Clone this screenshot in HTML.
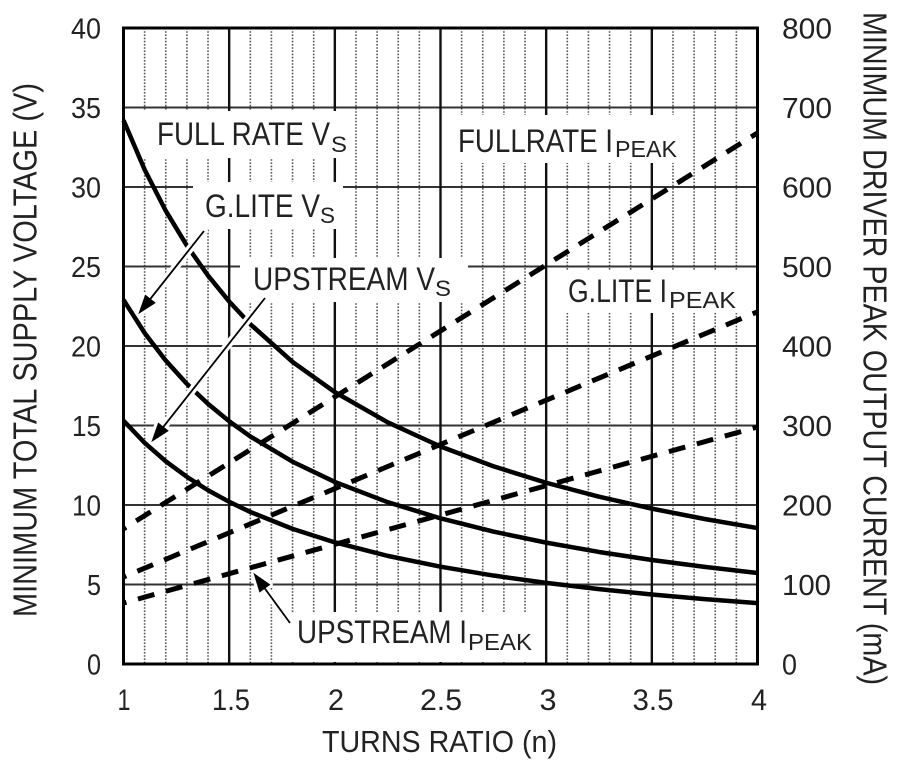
<!DOCTYPE html>
<html><head><meta charset="utf-8">
<style>
html,body{margin:0;padding:0;background:#fff;}
svg{display:block;}
text{font-family:"Liberation Sans",Arial,sans-serif;fill:#222;}
</style></head>
<body>
<svg width="900" height="768" viewBox="0 0 900 768" xmlns="http://www.w3.org/2000/svg">
<rect x="0" y="0" width="900" height="768" fill="#fff"/>

<!-- minor dotted verticals -->
<g stroke="#555" stroke-width="1.6" stroke-dasharray="1.6 1.6" fill="none">
<path d="M144.63 28V664M165.77 28V664M186.9 28V664M208.03 28V664
M250.3 28V664M271.43 28V664M292.57 28V664M313.7 28V664
M355.97 28V664M377.1 28V664M398.23 28V664M419.37 28V664
M461.63 28V664M482.77 28V664M503.9 28V664M525.03 28V664
M567.3 28V664M588.43 28V664M609.57 28V664M630.7 28V664
M672.97 28V664M694.1 28V664M715.23 28V664M736.37 28V664"/>
</g>
<!-- major horizontals -->
<g stroke="#333" stroke-width="2" fill="none">
<path d="M123.5 107.5H757.5M123.5 187H757.5M123.5 266.5H757.5M123.5 346H757.5M123.5 425.5H757.5M123.5 505H757.5M123.5 584.5H757.5"/>
</g>
<!-- major verticals -->
<g stroke="#111" stroke-width="2.4" fill="none">
<path d="M229.17 28V664M334.83 28V664M440.5 28V664M546.17 28V664M651.83 28V664"/>
</g>

<!-- label backgrounds -->
<g fill="#fff">
<rect x="140" y="111" width="213" height="47"/>
<rect x="193" y="182" width="150" height="47"/>
<rect x="240" y="258" width="228" height="44"/>
<rect x="450" y="115" width="240" height="48"/>
<rect x="555" y="270" width="192" height="43"/>
<rect x="290" y="612" width="250" height="50"/>
</g>

<!-- dashed IPEAK lines -->
<g stroke="#000" stroke-width="5" fill="none" stroke-dasharray="17 12" stroke-dashoffset="14">
<line x1="123.5" y1="528.85" x2="757.5" y2="132.94"/>
<line x1="123.5" y1="577.03" x2="757.5" y2="311.8"/>
<line x1="123.5" y1="603.02" x2="757.5" y2="427.0"/>
</g>

<!-- solid VS curves -->
<g stroke="#000" stroke-width="4.5" fill="none" stroke-linejoin="round" stroke-linecap="butt">
<polyline points="123.5,120.22 144.63,169.65 165.77,210.85 186.9,245.71 208.03,275.59 229.17,301.48 250.3,324.14 292.57,361.9 334.83,392.11 387.67,422.32 440.5,446.49 493.33,466.26 546.17,482.74 599,496.68 651.83,508.63 704.67,518.99 757.5,528.05"/>
<polyline points="123.5,299.89 144.63,332.99 165.77,360.57 186.9,383.92 208.03,403.92 229.17,421.26 250.3,436.43 292.57,461.72 334.83,481.94 387.67,502.17 440.5,518.36 493.33,531.6 546.17,542.63 599,551.97 651.83,559.97 704.67,566.9 757.5,572.97"/>
<polyline points="123.5,420.73 144.63,442.85 165.77,461.27 186.9,476.87 208.03,490.24 229.17,501.82 250.3,511.96 292.57,528.85 334.83,542.36 387.67,555.88 440.5,566.69 493.33,575.54 546.17,582.91 599,589.15 651.83,594.49 704.67,599.13 757.5,603.18"/>
</g>

<!-- arrows: halos -->
<g stroke="#fff" fill="#fff" stroke-width="8" stroke-linejoin="round" stroke-linecap="round">
<line x1="204" y1="231" x2="149.9" y2="299.4"/>
<polygon points="140,312 154.24,302.85 145.6,296.03"/>
<line x1="265" y1="298" x2="162.9" y2="427.4"/>
<polygon points="153,440 167.23,430.85 158.59,424.03"/>
<line x1="290" y1="623" x2="264.4" y2="587.9"/>
<polygon points="255,575 268.87,584.69 259.99,591.17"/>
</g>
<g stroke="#000" fill="#000" stroke-width="1.8" stroke-linejoin="miter">
<line x1="204" y1="231" x2="149.9" y2="299.4"/>
<polygon points="140,312 154.24,302.85 145.6,296.03"/>
<line x1="265" y1="298" x2="162.9" y2="427.4"/>
<polygon points="153,440 167.23,430.85 158.59,424.03"/>
<line x1="290" y1="623" x2="264.4" y2="587.9"/>
<polygon points="255,575 268.87,584.69 259.99,591.17"/>
</g>

<!-- frame -->
<rect x="123.5" y="28" width="634" height="636" fill="none" stroke="#000" stroke-width="3"/>

<!-- in-plot labels -->
<g font-size="32" lengthAdjust="spacingAndGlyphs">
<text x="157" y="145" textLength="173" lengthAdjust="spacingAndGlyphs">FULL RATE V</text>
<text x="331" y="152" font-size="22" textLength="16" lengthAdjust="spacingAndGlyphs">S</text>
<text x="205" y="217" textLength="115" lengthAdjust="spacingAndGlyphs">G.LITE V</text>
<text x="320" y="223" font-size="22" textLength="15" lengthAdjust="spacingAndGlyphs">S</text>
<text x="253" y="290" textLength="182" lengthAdjust="spacingAndGlyphs">UPSTREAM V</text>
<text x="435" y="296" font-size="22" textLength="16" lengthAdjust="spacingAndGlyphs">S</text>
<text x="458" y="152" textLength="155" lengthAdjust="spacingAndGlyphs">FULLRATE I</text>
<text x="615" y="157" font-size="23" textLength="62" lengthAdjust="spacingAndGlyphs">PEAK</text>
<text x="568" y="302" textLength="99" lengthAdjust="spacingAndGlyphs">G.LITE I</text>
<text x="669" y="308" font-size="23" textLength="67" lengthAdjust="spacingAndGlyphs">PEAK</text>
<text x="297" y="643" textLength="170" lengthAdjust="spacingAndGlyphs">UPSTREAM I</text>
<text x="468" y="650" font-size="23" textLength="64" lengthAdjust="spacingAndGlyphs">PEAK</text>
</g>

<!-- left tick labels -->
<g font-size="29" text-anchor="end">
<text x="101" y="38.5" textLength="30" lengthAdjust="spacingAndGlyphs">40</text>
<text x="101" y="118" textLength="30" lengthAdjust="spacingAndGlyphs">35</text>
<text x="101" y="197.5" textLength="30" lengthAdjust="spacingAndGlyphs">30</text>
<text x="101" y="277" textLength="30" lengthAdjust="spacingAndGlyphs">25</text>
<text x="101" y="356.5" textLength="30" lengthAdjust="spacingAndGlyphs">20</text>
<text x="101" y="436" textLength="29" lengthAdjust="spacingAndGlyphs">15</text>
<text x="101" y="515.5" textLength="29" lengthAdjust="spacingAndGlyphs">10</text>
<text x="101" y="595" textLength="14" lengthAdjust="spacingAndGlyphs">5</text>
<text x="101" y="674.5" textLength="14" lengthAdjust="spacingAndGlyphs">0</text>
</g>
<!-- right tick labels -->
<g font-size="29">
<text x="782" y="38.5" textLength="50" lengthAdjust="spacingAndGlyphs">800</text>
<text x="782" y="118" textLength="50" lengthAdjust="spacingAndGlyphs">700</text>
<text x="782" y="197.5" textLength="50" lengthAdjust="spacingAndGlyphs">600</text>
<text x="782" y="277" textLength="50" lengthAdjust="spacingAndGlyphs">500</text>
<text x="782" y="356.5" textLength="50" lengthAdjust="spacingAndGlyphs">400</text>
<text x="782" y="436" textLength="50" lengthAdjust="spacingAndGlyphs">300</text>
<text x="782" y="515.5" textLength="50" lengthAdjust="spacingAndGlyphs">200</text>
<text x="782" y="595" textLength="49" lengthAdjust="spacingAndGlyphs">100</text>
<text x="782" y="674.5" textLength="15" lengthAdjust="spacingAndGlyphs">0</text>
</g>
<!-- bottom tick labels -->
<g font-size="30" text-anchor="middle">
<text x="124" y="710" textLength="13" lengthAdjust="spacingAndGlyphs">1</text>
<text x="231" y="710" textLength="38" lengthAdjust="spacingAndGlyphs">1.5</text>
<text x="336" y="710" textLength="16" lengthAdjust="spacingAndGlyphs">2</text>
<text x="441" y="710" textLength="42" lengthAdjust="spacingAndGlyphs">2.5</text>
<text x="548" y="710" textLength="17" lengthAdjust="spacingAndGlyphs">3</text>
<text x="653" y="710" textLength="41" lengthAdjust="spacingAndGlyphs">3.5</text>
<text x="759" y="710" textLength="16" lengthAdjust="spacingAndGlyphs">4</text>
</g>

<!-- axis titles -->
<text x="322" y="752" font-size="31" textLength="235" lengthAdjust="spacingAndGlyphs">TURNS RATIO (n)</text>
<text transform="translate(36.5,350) rotate(-90)" text-anchor="middle" font-size="33" textLength="534" lengthAdjust="spacingAndGlyphs">MINIMUM TOTAL SUPPLY VOLTAGE (V)</text>
<text transform="translate(863.5,348.5) rotate(90)" text-anchor="middle" font-size="33" textLength="673" lengthAdjust="spacingAndGlyphs">MINIMUM DRIVER PEAK OUTPUT CURRENT (mA)</text>
</svg>
</body></html>
